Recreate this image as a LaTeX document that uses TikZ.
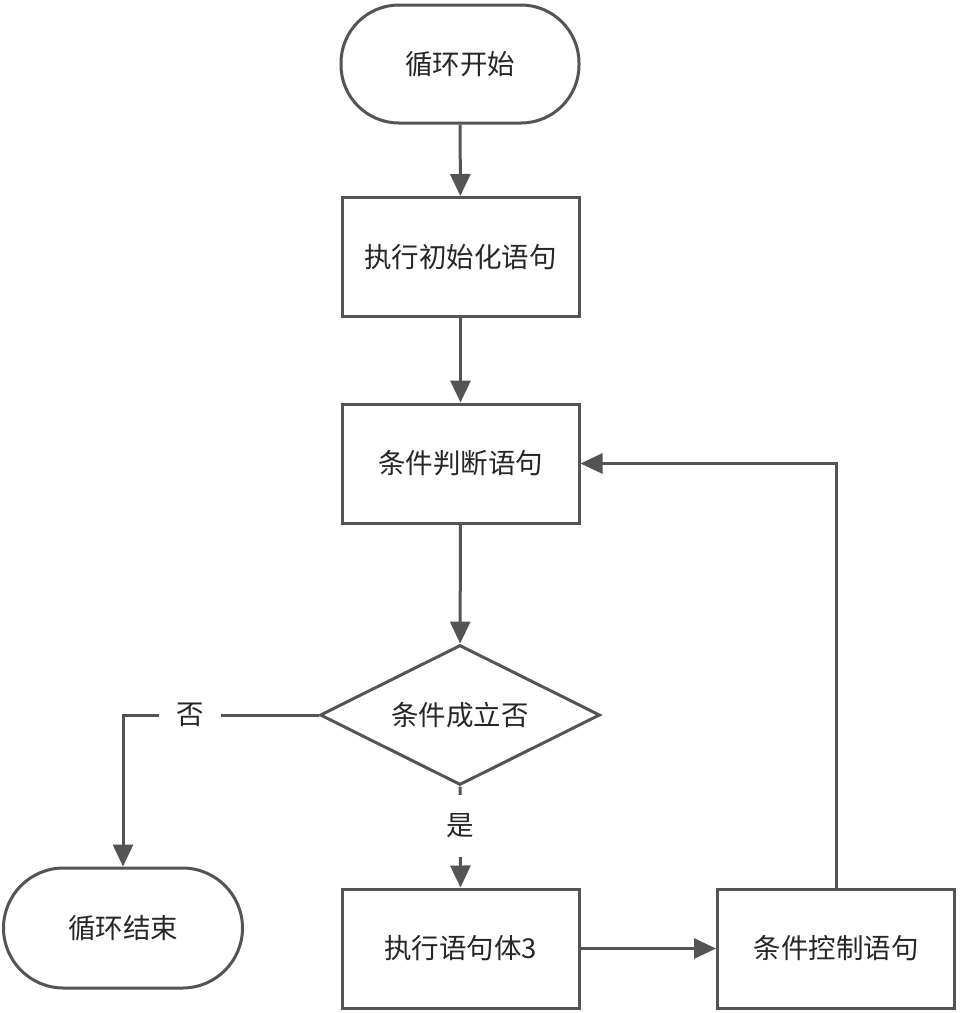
\documentclass[tikz,border=0pt]{standalone}
\usepackage{fontspec}
\setmainfont{Noto Sans CJK SC}
\usetikzlibrary{shapes.geometric,arrows.meta}
\begin{document}
\begin{tikzpicture}[x=1pt,y=-1pt,
  every node/.style={font=\fontsize{27.5}{32}\selectfont, text=black!85},
  ln/.style={draw=black!67, line width=3pt},
  arr/.style={ln, -{Triangle[length=22pt,width=20pt]}},
  term/.style={ln, fill=white, rounded corners=58pt, minimum width=238pt, minimum height=118pt, inner sep=0pt},
  proc/.style={ln, fill=white, rectangle, minimum width=237pt, minimum height=119pt, inner sep=0pt},
  dec/.style={ln, fill=white, diamond, aspect=2, minimum width=280pt, minimum height=140pt, inner sep=0pt},
  lab/.style={fill=white, inner xsep=17pt, inner ysep=20pt}]
\path[use as bounding box, fill=white] (0,0) rectangle (960,1013);
\node[term] (start) at (460,64) {循环开始};
\node[proc] (init) at (460.5,257) {执行初始化语句};
\node[proc] (cond) at (460.5,463.5) {条件判断语句};
\node[dec] (ok) at (460,715) {条件成立否};
\node[term, minimum height=120pt, minimum width=239pt, rounded corners=60pt] (stop) at (123,928) {循环结束};
\node[proc] (body) at (460.5,948.5) {执行语句体3};
\node[proc] (ctrl) at (836,948.5) {条件控制语句};
\coordinate (c1) at (123,715);
\coordinate (c2) at (836,463.5);
\draw[arr] (start) -- (init);
\draw[arr] (init) -- (cond);
\draw[arr] (cond) -- (ok);
\draw[arr] (ok.west) -- (c1) -- (stop.north);
\draw[arr] (ok.south) -- (body.north);
\draw[arr] (body) -- (ctrl);
\draw[arr] (ctrl.north) -- (c2) -- (cond.east);
\node[lab] (no) at (190,715) {否};
\node[lab, inner ysep=0pt, minimum height=62pt] (yes) at (460,826) {是};
\end{tikzpicture}
\end{document}
